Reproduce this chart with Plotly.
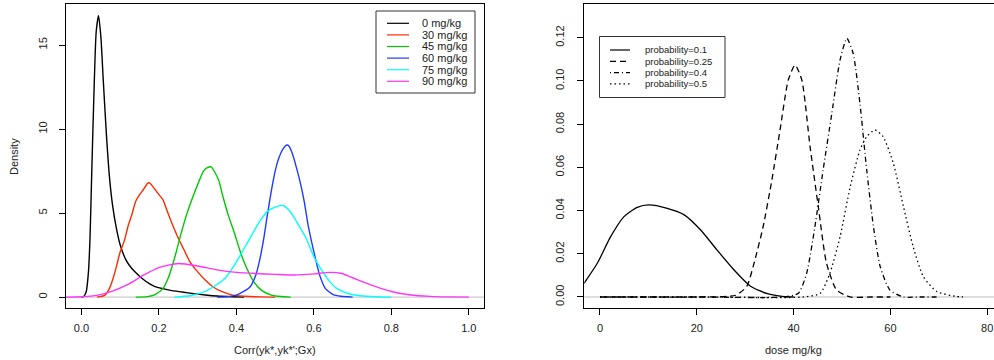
import plotly.graph_objects as go

# ---------------- data: left panel (density of correlation) ----------------
dose_labels = ["0 mg/kg", "30 mg/kg", "45 mg/kg", "60 mg/kg", "75 mg/kg", "90 mg/kg"]

x0 = [0.0, 0.005, 0.012, 0.018, 0.022, 0.026, 0.032, 0.038, 0.044, 0.05, 0.056, 0.064, 0.072,
      0.08, 0.09, 0.1, 0.115, 0.13, 0.145, 0.16, 0.175, 0.19, 0.21, 0.23, 0.26, 0.29, 0.32,
      0.35, 0.39, 0.42]
y0 = [0, 0.02, 0.3, 1.5, 3.5, 7, 12, 15.8, 16.75, 15.5, 13, 9.8, 7.2, 5.5, 4.1, 3.1, 2.2,
      1.7, 1.35, 1.05, 0.8, 0.62, 0.5, 0.4, 0.3, 0.2, 0.12, 0.06, 0.02, 0]

x30 = [0.04, 0.06, 0.072, 0.08, 0.09, 0.1, 0.11, 0.12, 0.13, 0.14, 0.15, 0.16, 0.17, 0.175,
       0.18, 0.19, 0.2, 0.21, 0.22, 0.235, 0.25, 0.265, 0.28, 0.3, 0.32, 0.34, 0.36, 0.39,
       0.42, 0.46, 0.5]
y30 = [0, 0.1, 0.5, 1.0, 1.8, 2.7, 3.3, 4.2, 4.9, 5.7, 6.1, 6.4, 6.75, 6.8, 6.7, 6.4, 6.1,
       5.8, 5.2, 4.3, 3.5, 2.8, 2.1, 1.5, 1.0, 0.6, 0.35, 0.12, 0.05, 0.01, 0]

x45 = [0.14, 0.17, 0.19, 0.21, 0.225, 0.24, 0.255, 0.27, 0.285, 0.3, 0.315, 0.325, 0.335,
       0.345, 0.355, 0.365, 0.38, 0.395, 0.41, 0.425, 0.445, 0.465, 0.49, 0.515, 0.54]
y45 = [0, 0.03, 0.15, 0.5, 1.2, 2.3, 3.6, 4.8, 5.8, 6.7, 7.5, 7.7, 7.75, 7.4, 6.9, 6.0, 4.8,
       3.8, 2.7, 1.8, 0.9, 0.4, 0.12, 0.03, 0]

x60 = [0.35, 0.38, 0.4, 0.42, 0.435, 0.45, 0.46, 0.47, 0.48, 0.49, 0.5, 0.51, 0.52, 0.53,
       0.535, 0.545, 0.555, 0.565, 0.575, 0.585, 0.595, 0.605, 0.615, 0.63, 0.65, 0.67, 0.7]
y60 = [0, 0.03, 0.12, 0.35, 0.6, 1.3, 2.2, 3.4, 4.9, 6.3, 7.5, 8.3, 8.8, 9.05, 9.0, 8.5, 7.7,
       6.8, 5.7, 4.3, 3.2, 2.2, 1.3, 0.5, 0.15, 0.05, 0]

x75 = [0.24, 0.28, 0.31, 0.34, 0.37, 0.4, 0.43, 0.46, 0.48, 0.5, 0.52, 0.535, 0.55, 0.565,
       0.58, 0.6, 0.62, 0.64, 0.66, 0.69, 0.72, 0.76, 0.8]
y75 = [0, 0.08, 0.25, 0.6, 1.1, 2.1, 3.3, 4.5, 5.1, 5.35, 5.45, 5.2, 4.7, 4.1, 3.5, 2.4, 1.6,
       0.95, 0.5, 0.2, 0.08, 0.02, 0]

x90 = [-0.04, 0.0, 0.04, 0.08, 0.12, 0.16, 0.2, 0.25, 0.3, 0.35, 0.4, 0.45, 0.5, 0.55, 0.6,
       0.64, 0.67, 0.7, 0.73, 0.76, 0.8, 0.85, 0.9, 0.95, 1.0]
y90 = [0, 0.02, 0.1, 0.35, 0.75, 1.3, 1.75, 2.0, 1.85, 1.62, 1.47, 1.4, 1.35, 1.31, 1.38,
       1.47, 1.42, 1.15, 0.88, 0.62, 0.33, 0.12, 0.04, 0.01, 0]

left_xticks = [0.0, 0.2, 0.4, 0.6, 0.8, 1.0]
left_yticks = [0, 5, 10, 15]

# ---------------- data: right panel (density of dose) ----------------
prob_labels = ["probability=0.1", "probability=0.25", "probability=0.4", "probability=0.5"]

xp10 = [-3.3, -0.55, 2.2, 4.96, 7.7, 10.1, 13.9, 17.4, 20.8, 24.2, 27.7, 31.1, 34.6, 38, 40]
yp10 = [0.0063, 0.0156, 0.0279, 0.0372, 0.0415, 0.0426, 0.041, 0.038, 0.031, 0.0217, 0.0125,
        0.0050, 0.0015, 0.0002, 0]

xp25 = [0, 10, 20, 28, 30.3, 32, 33.7, 35.5, 37.2, 38.9, 40.3, 41.7, 43.4, 45.1, 46.8, 48.9,
        51.7, 56, 60]
yp25 = [0, 0, 0, 0.0008, 0.0048, 0.0171, 0.0325, 0.054, 0.0773, 0.1004, 0.1074, 0.1004,
        0.0696, 0.0418, 0.0156, 0.0032, 0, 0, 0]

xp40 = [0, 20, 38, 41, 42.7, 44.4, 46.1, 47.9, 49.6, 51, 52.3, 53.7, 55.1, 56.5, 57.9, 59.9,
        62.7, 66, 70]
yp40 = [0, 0, 0, 0.0017, 0.011, 0.0325, 0.0588, 0.085, 0.1097, 0.1197, 0.1128, 0.0896,
        0.0588, 0.0325, 0.014, 0.0032, 0, 0, 0]

xp50 = [0, 20, 42, 45.5, 47.5, 49.6, 51.7, 53.7, 55.1, 56.8, 58.5, 60.6, 62.7, 64.7, 66.8,
        69.6, 73.7, 75]
yp50 = [0, 0, 0, 0.0017, 0.011, 0.0279, 0.051, 0.068, 0.0742, 0.0773, 0.0742, 0.0619,
        0.0418, 0.0233, 0.0094, 0.0025, 0.0002, 0]

right_xticks = [0, 20, 40, 60, 80]
right_yticks = [0.00, 0.02, 0.04, 0.06, 0.08, 0.10, 0.12]

# ---------------- styles ----------------
FONT = "Liberation Sans, Arial, Helvetica, sans-serif"
W, H = 994, 360
left_colors = ["#000000", "#FF2A00", "#00C800", "#1E3CFF", "#00FFFF", "#FF33FF"]
right_dashes = ["solid", "6px,4px", "1px,3px,5px,3px", "1.5px,3px"]


def px(x):
    return x / W


def py(y):
    return 1 - y / H


fig = go.Figure()

left_series = [(x0, y0), (x30, y30), (x45, y45), (x60, y60), (x75, y75), (x90, y90)]
for (xs, ys), name, col in zip(left_series, dose_labels, left_colors):
    fig.add_trace(go.Scatter(x=xs, y=ys, mode="lines", name=name, showlegend=False,
                             line=dict(color=col, width=1.4, shape="spline", smoothing=0.6),
                             xaxis="x", yaxis="y"))

right_series = [(xp10, yp10), (xp25, yp25), (xp40, yp40), (xp50, yp50)]
for (xs, ys), name, d in zip(right_series, prob_labels, right_dashes):
    fig.add_trace(go.Scatter(x=xs, y=ys, mode="lines", name=name, showlegend=False,
                             line=dict(color="black", width=1.3, dash=d, shape="spline",
                                       smoothing=0.6),
                             xaxis="x2", yaxis="y2"))

axis_common = dict(showgrid=False, zeroline=False, showline=True, linecolor="black",
                   linewidth=1, ticks="outside", ticklen=6, tickcolor="black",
                   tickfont=dict(family=FONT, size=11, color="#222222"))

ydom = [py(308), py(4)]
fig.update_layout(
    width=W, height=H, margin=dict(l=0, r=0, t=0, b=0),
    paper_bgcolor="white", plot_bgcolor="white", showlegend=False,
    xaxis=dict(domain=[px(66), px(484.3)], range=[-0.04, 1.04], tickvals=left_xticks,
               tickformat=".1f", mirror=True, anchor="y", ticklabelstandoff=4,
               **axis_common),
    yaxis=dict(domain=ydom, range=[-0.65, 17.44], tickvals=left_yticks, tickangle=-90,
               mirror=True, anchor="x", ticklabelstandoff=8, **axis_common),
    xaxis2=dict(domain=[px(584.3), 1.0], range=[-3.24, 81.4], tickvals=right_xticks,
                mirror=True, anchor="y2", ticklabelstandoff=4, **axis_common),
    yaxis2=dict(domain=ydom, range=[-0.0051, 0.1356], tickvals=right_yticks,
                tickformat=".2f", tickangle=-90, mirror=False, anchor="x2",
                ticklabelstandoff=9, **axis_common),
)

shapes = []
# gray zero lines
for xr, yr in (("x domain", "y"), ("x2 domain", "y2")):
    shapes.append(dict(type="line", xref=xr, yref=yr, x0=0, x1=1, y0=0, y1=0,
                       line=dict(color="#BEBEBE", width=1), layer="below"))

annotations = []
title_font = dict(family=FONT, size=11, color="#222222")
# axis titles
annotations.append(dict(text="Density", x=px(14), y=py(157), xref="paper", yref="paper",
                        xanchor="center", yanchor="middle", showarrow=False,
                        textangle=-90, font=title_font))
annotations.append(dict(text="Corr(yk*,yk*';Gx)", x=px(275), y=py(350), xref="paper",
                        yref="paper", xanchor="center", yanchor="middle",
                        showarrow=False, font=title_font))
annotations.append(dict(text="dose mg/kg", x=px(793), y=py(350), xref="paper",
                        yref="paper", xanchor="center", yanchor="middle",
                        showarrow=False, font=title_font))

# left legend (drawn)
shapes.append(dict(type="rect", xref="paper", yref="paper", x0=px(376), x1=px(475),
                   y0=py(11), y1=py(93), line=dict(color="#333333", width=1),
                   fillcolor="white"))
for i, (name, col) in enumerate(zip(dose_labels, left_colors)):
    yy = 23.3 + i * 11.6
    shapes.append(dict(type="line", xref="paper", yref="paper", x0=px(387), x1=px(409),
                       y0=py(yy), y1=py(yy), line=dict(color=col, width=1.2)))
    annotations.append(dict(text=name, x=px(420), y=py(yy), xref="paper", yref="paper",
                            xanchor="left", yanchor="middle", showarrow=False,
                            font=dict(family=FONT, size=11, color="#222222")))

# right legend (drawn)
shapes.append(dict(type="rect", xref="paper", yref="paper", x0=px(599.5), x1=px(725),
                   y0=py(36.5), y1=py(97.5), line=dict(color="#333333", width=1),
                   fillcolor="white"))
for i, (name, d) in enumerate(zip(prob_labels, right_dashes)):
    yy = 50.0 + i * 11.3
    shapes.append(dict(type="line", xref="paper", yref="paper", x0=px(610), x1=px(630),
                       y0=py(yy), y1=py(yy), line=dict(color="black", width=1.2, dash=d)))
    annotations.append(dict(text=name, x=px(643), y=py(yy), xref="paper", yref="paper",
                            xanchor="left", yanchor="middle", showarrow=False,
                            font=dict(family=FONT, size=9.5, color="#222222")))

fig.update_layout(shapes=shapes, annotations=annotations)
fig.write_html("out.html")
